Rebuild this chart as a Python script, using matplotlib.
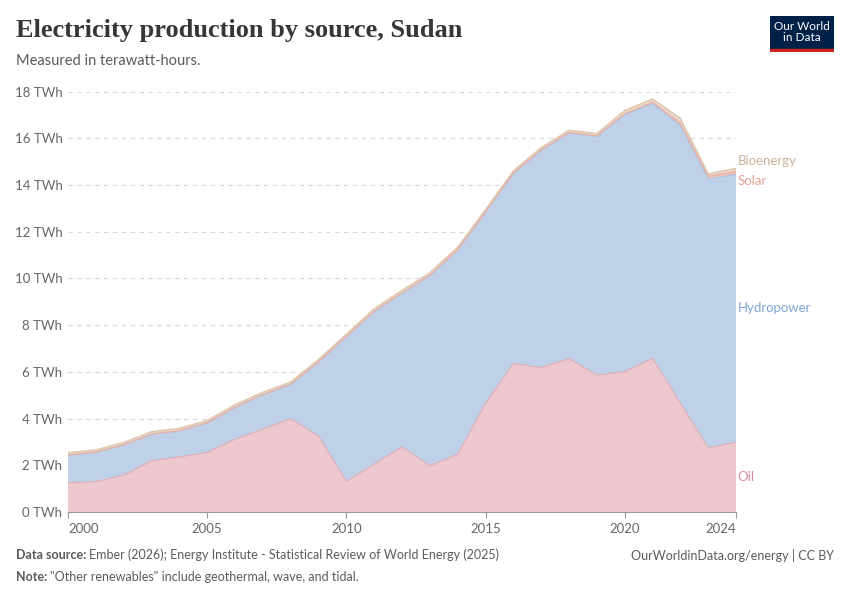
import numpy as np
import matplotlib.pyplot as plt
from matplotlib.patches import Rectangle

# Electricity production by source, Sudan (TWh)
years = np.arange(2000, 2025)
oil = [1.25, 1.30, 1.58, 2.19, 2.36, 2.55, 3.12, 3.55, 4.00, 3.25, 1.31, 2.05, 2.79,
       1.98, 2.47, 4.65, 6.36, 6.19, 6.57, 5.87, 6.01, 6.58, 4.67, 2.75, 2.98]
hydro = [1.19, 1.26, 1.30, 1.14, 1.12, 1.27, 1.37, 1.48, 1.47, 3.18, 6.20, 6.55, 6.59,
         8.16, 8.76, 8.20, 8.14, 9.31, 9.66, 10.22, 11.01, 10.92, 11.88, 11.52, 11.47]
solar = [0, 0, 0, 0, 0, 0, 0, 0, 0, 0, 0, 0, 0,
         0, 0, 0, 0.01, 0.01, 0.02, 0.02, 0.03, 0.05, 0.10, 0.11, 0.13]
bio = [0.10, 0.10, 0.10, 0.11, 0.10, 0.10, 0.11, 0.10, 0.10, 0.10, 0.10, 0.11, 0.11,
       0.11, 0.11, 0.10, 0.10, 0.10, 0.10, 0.10, 0.14, 0.14, 0.21, 0.10, 0.14]

names = ['Oil', 'Hydropower', 'Solar', 'Bioenergy']
layers = [oil, hydro, solar, bio]
fills = ['#edc9cf', '#bed1e9', '#f3c3bb', '#eadac9']
edges = ['#dcb1ba', '#aec4e0', '#eab0a6', '#dcc3a9']
label_colors = ['#d98ea2', '#7fa4d9', '#e9a096', '#cbb198']

xticks = [2000, 2005, 2010, 2015, 2020, 2024]
yticks = [0, 2, 4, 6, 8, 10, 12, 14, 16, 18]

plt.rcParams['font.family'] = ['Lato', 'DejaVu Sans']

fig = plt.figure(figsize=(8.5, 6), dpi=100)
ax = fig.add_axes([0.08, 0.1467, 0.7859, 0.7005])

base = np.zeros(len(years))
for vals, fc, ec in zip(layers, fills, edges):
    top = base + np.array(vals)
    ax.fill_between(years, base, top, facecolor=fc, edgecolor='none', zorder=2)
    ax.plot(years, top, color=ec, lw=0.9, zorder=3)
    base = top

ax.set_xlim(2000, 2024)
ax.set_ylim(0, 18)
ax.set_yticks(yticks)
ax.set_yticklabels([f'{v} TWh' for v in yticks])
ax.set_xticks(xticks)
ax.set_xticklabels([str(v) for v in xticks])
for lab in ax.get_xticklabels():
    if lab.get_text() == '2000':
        lab.set_horizontalalignment('left')
    elif lab.get_text() == '2024':
        lab.set_horizontalalignment('right')
ax.tick_params(axis='y', length=0, pad=4, labelsize=9.5, labelcolor='#666666')
ax.tick_params(axis='x', length=4, color='#999999', pad=4, labelsize=9.5, labelcolor='#666666')
ax.grid(axis='y', color='#d9d9d9', lw=0.8, ls=(0, (4, 4)), zorder=1)
for s in ['top', 'right', 'left']:
    ax.spines[s].set_visible(False)
ax.spines['bottom'].set_color('#999999')
ax.spines['bottom'].set_linewidth(0.8)
ax.spines['bottom'].set_zorder(4)

# right-hand labels
last_oil = oil[-1]
last_hydro = hydro[-1]
total = last_oil + last_hydro + solar[-1] + bio[-1]
label_y = {'Oil': last_oil / 2,
           'Hydropower': last_oil + last_hydro / 2,
           'Solar': total - 0.55,
           'Bioenergy': total + 0.3}
for name, col in zip(names, label_colors):
    ax.annotate(name, xy=(2024, label_y[name]), xytext=(1, 0), textcoords='offset points',
                va='center', ha='left', fontsize=9.5, color=col, annotation_clip=False)

# title and subtitle
fig.text(16 / 850, 1 - 31 / 600, 'Electricity production by source, Sudan',
         family=['Liberation Serif'], weight='bold', fontsize=19, color='#363636',
         va='center', ha='left')
fig.text(16 / 850, 1 - 61 / 600, 'Measured in terawatt-hours.', fontsize=10.5,
         color='#5b5b5b', va='center', ha='left')

# logo
logo = fig.add_axes([770 / 850, 1 - 52 / 600, 64 / 850, 36 / 600])
logo.add_patch(Rectangle((0, 0), 1, 1, color='#002147'))
logo.add_patch(Rectangle((0, 0), 1, 0.08, color='#ce261e'))
logo.text(0.5, 0.56, 'Our World\nin Data', color='white', ha='center', va='center',
          fontsize=8.5, linespacing=1.0)
logo.set_xlim(0, 1)
logo.set_ylim(0, 1)
logo.axis('off')

# footer
renderer = fig.canvas.get_renderer()
def footer(y, bold, rest):
    t = fig.text(16 / 850, y, bold, fontsize=9, weight='bold', color='#5b5b5b', va='center')
    w = t.get_window_extent(renderer).width
    fig.text((16 + w + 3) / 850, y, rest, fontsize=9, color='#5b5b5b', va='center')

footer(1 - 555 / 600, 'Data source:',
       'Ember (2026); Energy Institute - Statistical Review of World Energy (2025)')
footer(1 - 577 / 600, 'Note:', '"Other renewables" include geothermal, wave, and tidal.')
fig.text(834 / 850, 1 - 555 / 600, 'OurWorldinData.org/energy | CC BY', fontsize=9,
         color='#5b5b5b', va='center', ha='right')

fig.savefig('out.png', dpi=100, facecolor='white')
